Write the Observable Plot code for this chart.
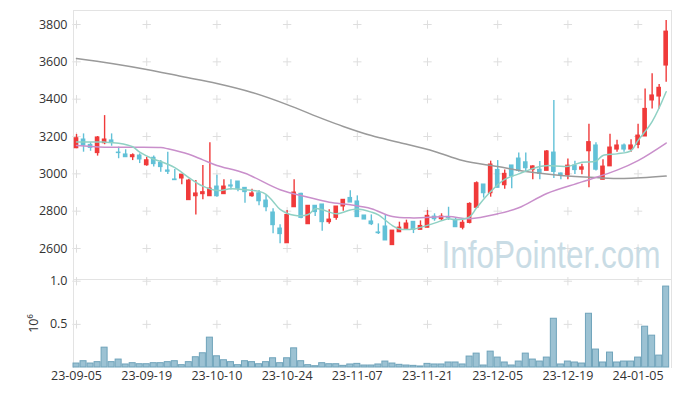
<!DOCTYPE html>
<html>
<head>
<meta charset="utf-8">
<script src="https://cdn.jsdelivr.net/npm/d3@7"></script>
<script src="https://cdn.jsdelivr.net/npm/@observablehq/plot@0.6"></script>
<style>
  html, body { margin: 0; padding: 0; background: #fff; }
  #chart svg { display: block; overflow: visible; }
  #chart svg.vol { background: transparent !important; }
</style>
</head>
<body>
<div id="chart"></div>
<script>
// Trading days (Korean market)
const dates = [
  "2023-09-05","2023-09-06","2023-09-07","2023-09-08","2023-09-11","2023-09-12","2023-09-13","2023-09-14","2023-09-15","2023-09-18",
  "2023-09-19","2023-09-20","2023-09-21","2023-09-22","2023-09-25","2023-09-26","2023-09-27","2023-10-04","2023-10-05","2023-10-06",
  "2023-10-10","2023-10-11","2023-10-12","2023-10-13","2023-10-16","2023-10-17","2023-10-18","2023-10-19","2023-10-20","2023-10-23",
  "2023-10-24","2023-10-25","2023-10-26","2023-10-27","2023-10-30","2023-10-31","2023-11-01","2023-11-02","2023-11-03","2023-11-06",
  "2023-11-07","2023-11-08","2023-11-09","2023-11-10","2023-11-13","2023-11-14","2023-11-15","2023-11-16","2023-11-17","2023-11-20",
  "2023-11-21","2023-11-22","2023-11-23","2023-11-24","2023-11-27","2023-11-28","2023-11-29","2023-11-30","2023-12-01","2023-12-04",
  "2023-12-05","2023-12-06","2023-12-07","2023-12-08","2023-12-11","2023-12-12","2023-12-13","2023-12-14","2023-12-15","2023-12-18",
  "2023-12-19","2023-12-20","2023-12-21","2023-12-22","2023-12-26","2023-12-27","2023-12-28","2024-01-02","2024-01-03","2024-01-04",
  "2024-01-05","2024-01-08","2024-01-09","2024-01-10","2024-01-11"
];
const open = [
  3137,3184,3155,3111,3164,3179,3114,3104,3089,3098,
  3046,3086,3059,3018,2970,2975,2859,2880,2891,2880,
  2932,2891,2938,2959,2925,2880,2896,2857,2793,2707,
  2628,2821,2893,2730,2829,2836,2741,2764,2825,2871,
  2852,2777,2745,2686,2718,2618,2687,2705,2743,2700,
  2711,2771,2757,2768,2754,2711,2737,2818,2943,2896,
  3021,2939,3045,3082,3062,3020,3022,3016,3114,3002,
  2992,3044,3022,3121,3152,2968,3040,3130,3152,3130,
  3155,3200,3393,3414,3580
];
const high = [
  3211,3214,3166,3200,3312,3214,3143,3129,3107,3107,
  3089,3095,3071,3116,3023,2996,2971,2964,3045,3166,
  2993,2968,2968,2959,2925,2918,2911,2884,2813,2727,
  2804,2968,2896,2829,2829,2836,2807,2825,2861,2909,
  2882,2777,2780,2732,2780,2696,2741,2752,2743,2748,
  2804,2786,2786,2821,2764,2750,2845,2957,2943,3068,
  3071,3021,3045,3111,3111,3043,3066,3125,3393,3004,
  3080,3068,3052,3265,3167,3075,3212,3180,3160,3182,
  3265,3454,3536,3479,3821
];
const low = [
  3135,3116,3121,3095,3156,3148,3081,3089,3071,3055,
  3041,3036,3009,2996,2964,2941,2857,2780,2861,2880,
  2875,2891,2914,2904,2843,2875,2829,2797,2679,2625,
  2628,2821,2759,2730,2771,2693,2730,2752,2800,2846,
  2768,2755,2723,2675,2643,2618,2687,2700,2680,2700,
  2711,2746,2746,2750,2714,2700,2732,2818,2870,2875,
  2925,2918,2920,3009,3009,2968,2968,3016,2975,2968,
  2968,2996,2995,2925,3015,2968,3040,3116,3116,3116,
  3134,3200,3348,3348,3491
];
const close = [
  3191,3152,3139,3195,3184,3166,3111,3089,3100,3077,
  3073,3052,3036,3011,2966,2996,2964,2895,2902,2921,
  2880,2932,2932,2920,2902,2895,2853,2821,2725,2677,
  2780,2900,2764,2829,2795,2741,2755,2825,2861,2846,
  2768,2755,2730,2682,2643,2696,2712,2734,2700,2721,
  2775,2757,2771,2764,2714,2738,2839,2950,2896,3050,
  2925,3000,2986,3015,3030,3040,3000,3120,3010,2989,
  3044,3020,3035,3170,3022,3039,3141,3152,3130,3152,
  3205,3348,3420,3461,3762
];
const volume = [
  46000,73000,46000,62000,230000,62000,92000,35000,50000,38000,
  38000,50000,50000,62000,73000,27000,62000,119000,165000,346000,
  130000,84000,62000,27000,73000,62000,38000,62000,107000,50000,
  107000,222000,73000,27000,15000,50000,38000,38000,19000,35000,
  42000,23000,23000,35000,69000,46000,31000,23000,19000,12000,
  42000,35000,35000,58000,58000,35000,127000,161000,23000,184000,
  115000,58000,23000,69000,161000,92000,69000,115000,565000,35000,
  69000,58000,46000,623000,208000,58000,173000,58000,69000,69000,
  115000,473000,369000,138000,938000
];
// Moving averages (trading-day index, value)
const ma5Day = [0,4,6,8,9,11,12,14,16,18,20,22,24,26,27,28,29,31,33,34,35,37,39,40,42,43,45,46,48,51,53,54,56,57,59,61,63,66,67,70,72,74,75,77,79,80,82,84];
const ma5Val = [3170,3170,3164,3145,3116,3078,3066,3033,2980,2934,2911,2920,2915,2906,2890,2852,2810,2778,2782,2813,2808,2786,2806,2812,2795,2780,2723,2705,2704,2736,2760,2754,2770,2818,2905,2970,3000,3039,3044,3040,3062,3068,3098,3107,3125,3179,3280,3440];
const ma20Day = [0,4,12,13,16,18,20,24,29,33,36,39,42,45,48,53,56,60,63,67,72,77,80,84];
const ma20Val = [3152,3143,3141,3134,3105,3075,3045,3003,2915,2875,2848,2834,2813,2771,2764,2771,2760,2786,2818,2895,2957,3020,3071,3165];
const ma120Day = [0,5,10,15,20,25,30,35,38,42,46,51,55,60,64,69,74,78,84];
const ma120Val = [3618,3591,3559,3521,3484,3436,3371,3296,3254,3205,3168,3120,3071,3039,3012,2991,2980,2975,2988];

const priceTicks = [2600,2800,3000,3200,3400,3600,3800];
const volTicks = [0.5, 1.0];
const xTickDay = [0,10,20,30,40,50,60,70,80];
const xTickLabels = ["23-09-05","23-09-19","23-10-10","23-10-24","23-11-07","23-11-21","23-12-05","23-12-19","24-01-05"];
const volumeLabel = "10⁶";
const watermark = "InfoPointer.com";

// tables
const candles = dates.map((d, i) => ({i, date: d, open: open[i], high: high[i], low: low[i], close: close[i], vol: volume[i] / 1e6}));
const ma5 = ma5Day.map((d, k) => ({i: d, v: ma5Val[k]}));
const ma20 = ma20Day.map((d, k) => ({i: d, v: ma20Val[k]}));
const ma120 = ma120Day.map((d, k) => ({i: d, v: ma120Val[k]}));
const pricePlus = xTickDay.flatMap(x => priceTicks.map(y => ({x, y})));
const volPlus = xTickDay.flatMap(x => volTicks.map(y => ({x, y})));

const UP = "#f03a3a", DOWN = "#62c1d7";
const col = d => d.close >= d.open ? UP : DOWN;
const xDomain = [-0.43, 84.76];
const FONT = "'Open Sans', sans-serif";
const GRID = "#e3e3e3";

const price = Plot.plot({
  width: 677, height: 279,
  marginTop: 10, marginBottom: 0, marginLeft: 73, marginRight: 6,
  style: {fontSize: "12.5px", fontFamily: FONT, color: "#333", background: "#fff"},
  x: {domain: xDomain, axis: null},
  y: {domain: [2434, 3875]},
  marks: [
    Plot.dot(pricePlus, {x: "x", y: "y", symbol: "plus", r: 2.8, stroke: "#dedede", strokeWidth: 1}),
    Plot.frame({stroke: GRID}),
    Plot.axisY({ticks: priceTicks, tickSize: 0, tickPadding: 6, label: null, tickFormat: d => String(d)}),
    Plot.text([watermark], {frameAnchor: "bottom-right", textAnchor: "end", dx: -11, dy: -12, fontSize: 38, fill: "#c9dce5", fontFamily: "'Liberation Sans', sans-serif"}),
    Plot.ruleX(candles, {x: "i", y1: "low", y2: "high", stroke: col, strokeWidth: 1.4}),
    Plot.rect(candles, {x1: d => d.i - 0.33, x2: d => d.i + 0.33, y1: "open", y2: "close", fill: col, insetTop: -0.5, insetBottom: -0.5}),
    Plot.line(ma120, {x: "i", y: "v", stroke: "#9a9a9a", strokeWidth: 1.5, curve: "catmull-rom"}),
    Plot.line(ma20, {x: "i", y: "v", stroke: "#c98fcb", strokeWidth: 1.5, curve: "catmull-rom"}),
    Plot.line(ma5, {x: "i", y: "v", stroke: "#8fd1c4", strokeWidth: 1.5, curve: "catmull-rom"})
  ]
});

const vol = Plot.plot({
  width: 677, height: 117,
  marginTop: 0, marginBottom: 29, marginLeft: 73, marginRight: 6,
  style: {fontSize: "12.5px", fontFamily: FONT, color: "#333", background: "transparent"},
  x: {domain: xDomain},
  y: {domain: [0, 1.02]},
  marks: [
    Plot.dot(volPlus, {x: "x", y: "y", symbol: "plus", r: 2.8, stroke: "#dedede", strokeWidth: 1}),
    Plot.frame({anchor: "left", stroke: GRID}),
    Plot.frame({anchor: "right", stroke: GRID}),
    Plot.rectY(candles, {x1: d => d.i - 0.5, x2: d => d.i + 0.5, y: "vol", fill: "#9cc2d3", stroke: "#6fa3ba", strokeWidth: 1, insetLeft: 0.5, insetRight: 0.5}),
    Plot.axisY({ticks: volTicks, tickSize: 0, tickPadding: 6, tickFormat: d3.format(".1f"), label: volumeLabel, labelAnchor: "center", labelOffset: 44, labelArrow: "none"}),
    Plot.axisX({ticks: xTickDay, tickSize: 0, tickPadding: 4, tickFormat: d => xTickLabels[xTickDay.indexOf(d)], label: null})
  ]
});
vol.classList.add("vol");

document.getElementById("chart").append(price, vol);

// narrow the watermark glyphs (the reference uses a condensed face)
for (const t of price.querySelectorAll("text")) {
  if (t.textContent === watermark) {
    const tr = t.getAttribute("transform") || "";
    t.setAttribute("transform", tr + " scale(0.83,1)");
  }
}
</script>
</body>
</html>
